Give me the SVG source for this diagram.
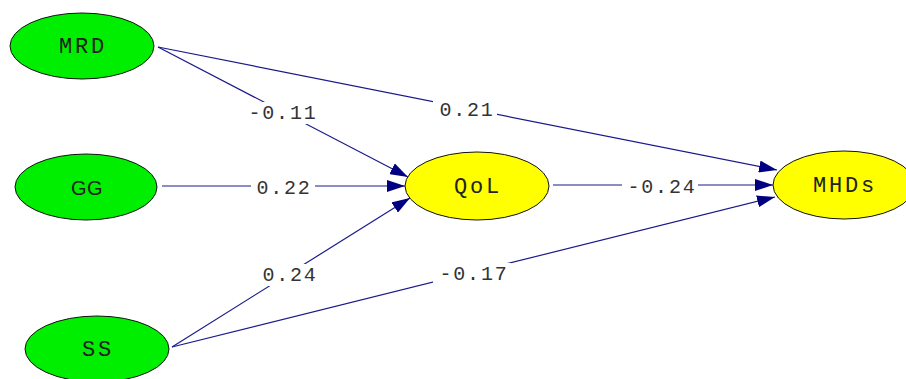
<svg xmlns="http://www.w3.org/2000/svg" width="906" height="379" viewBox="0 0 906 379">
<style>
.green{fill:#00ee00;stroke:#111;stroke-width:1}
.yellow{fill:#ffff00;stroke:#111;stroke-width:1}
.nl{font-family:"Liberation Mono","Courier New",monospace;font-size:22px;letter-spacing:2.8px;fill:#222;text-anchor:middle}
.ns{font-family:"Liberation Sans",Arial,sans-serif;font-size:20px;letter-spacing:0.5px;fill:#222;text-anchor:middle}
.edge{stroke:#1a1a8c;stroke-width:1.2;fill:none;marker-end:url(#ah)}
.el{font-family:"Liberation Mono","Courier New",monospace;font-size:20px;letter-spacing:1.8px;fill:#333;text-anchor:middle}
.bg{fill:#fff}
</style>
<defs>
<marker id="ah" markerUnits="userSpaceOnUse" markerWidth="20" markerHeight="12" refX="18" refY="6" orient="auto">
<path d="M0,0 L18,6 L0,12 Z" fill="#000080"/>
</marker>
</defs>
<rect width="906" height="379" fill="#fff"/>
<g id="connectors">
<line class="edge" x1="158" y1="47" x2="408" y2="177"/>
<line class="edge" x1="158" y1="47" x2="777" y2="170"/>
<line class="edge" x1="162" y1="186" x2="405" y2="186"/>
<line class="edge" x1="172" y1="347" x2="410" y2="198"/>
<line class="edge" x1="172" y1="347" x2="775" y2="197"/>
<line class="edge" x1="553" y1="185" x2="773" y2="185"/>
<rect class="bg" x="246" y="102" width="72" height="22"/>
<text class="el" x="283" y="119">-0.11</text>
<rect class="bg" x="433" y="99" width="64" height="22"/>
<text class="el" x="467" y="116">0.21</text>
<rect class="bg" x="251" y="177" width="64" height="22"/>
<text class="el" x="284" y="194">0.22</text>
<rect class="bg" x="622" y="176" width="76" height="22"/>
<text class="el" x="662" y="193">-0.24</text>
<rect class="bg" x="258" y="264" width="62" height="22"/>
<text class="el" x="290" y="281">0.24</text>
<rect class="bg" x="433" y="263" width="78" height="22"/>
<text class="el" x="474" y="280">-0.17</text>
</g>
<g id="MRD"><ellipse class="green" cx="82" cy="46" rx="72" ry="33"/><text class="nl" x="83" y="53">MRD</text></g>
<g id="GG"><ellipse class="green" cx="86" cy="187" rx="71" ry="33"/><text class="ns" x="87" y="195">GG</text></g>
<g id="SS"><ellipse class="green" cx="97" cy="349" rx="72" ry="33"/><text class="nl" x="98" y="356">SS</text></g>
<g id="QoL"><ellipse class="yellow" cx="477" cy="186" rx="72" ry="34"/><text class="nl" x="478" y="193">QoL</text></g>
<g id="MHDs"><ellipse class="yellow" cx="844" cy="185" rx="71" ry="34"/><text class="nl" x="845" y="192">MHDs</text></g>
</svg>
